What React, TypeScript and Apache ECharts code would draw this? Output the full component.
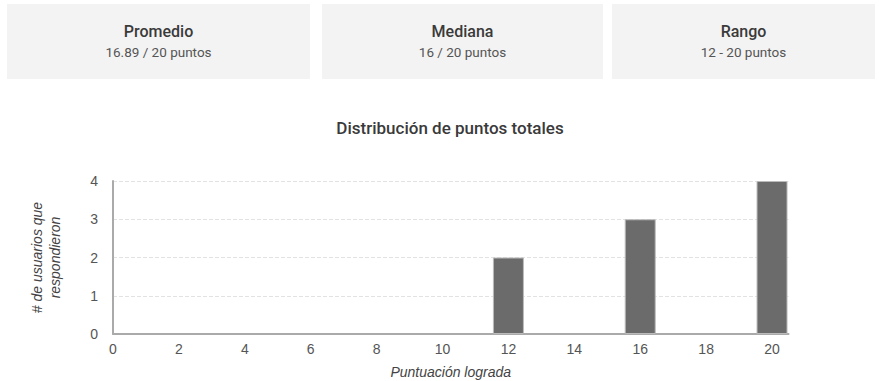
import React, { useEffect, useRef } from "react";
import * as echarts from "echarts";

const cardTitles = ["Promedio", "Mediana", "Rango"];
const cardValues = ["16.89 / 20 puntos", "16 / 20 puntos", "12 - 20 puntos"];
const scoreValues = [12, 16, 20];
const userCounts = [2, 3, 4];
const chartTitle = "Distribución de puntos totales";
const xAxisName = "Puntuación lograda";
const yAxisName = "# de usuarios que\nrespondieron";

const cardBoxes = [
  [7, 310],
  [322, 603],
  [612, 875],
];

export default function App() {
  const ref = useRef<HTMLDivElement>(null);
  useEffect(() => {
    if (!ref.current) return;
    const chart = echarts.init(ref.current, null, { renderer: "svg" });
    const graphics: any[] = [];
    cardBoxes.forEach(([x0, x1], i) => {
      graphics.push({
        type: "rect",
        shape: { x: x0, y: 4, width: x1 - x0, height: 75 },
        style: { fill: "#f3f3f3" },
        silent: true,
      });
      graphics.push({
        type: "text",
        x: (x0 + x1) / 2,
        y: 31,
        style: {
          text: cardTitles[i],
          fontFamily: "Roboto",
          fontSize: 16,
          fontWeight: 500,
          fill: "#3a3a3a",
          align: "center",
          verticalAlign: "middle",
        },
      });
      graphics.push({
        type: "text",
        x: (x0 + x1) / 2,
        y: 52,
        style: {
          text: cardValues[i],
          fontFamily: "Roboto",
          fontSize: 13.5,
          fill: "#555",
          align: "center",
          verticalAlign: "middle",
        },
      });
    });
    graphics.push({
      type: "text",
      x: 450,
      y: 128,
      style: {
        text: chartTitle,
        fontFamily: "Roboto",
        fontSize: 17,
        fontWeight: 500,
        fill: "#3a3a3a",
        align: "center",
        verticalAlign: "middle",
      },
    });
    chart.setOption({
      animation: false,
      backgroundColor: "#fff",
      graphic: graphics,
      grid: { left: 113, right: 90.5, top: 181, bottom: 47, containLabel: false },
      xAxis: {
        type: "value",
        min: 0,
        max: 20.5,
        interval: 2,
        name: xAxisName,
        nameLocation: "middle",
        nameGap: 31,
        nameTextStyle: {
          fontFamily: "Arial, Liberation Sans",
          fontStyle: "italic",
          fontSize: 14,
          color: "#444",
        },
        axisLine: { show: true, lineStyle: { color: "#aaa", width: 2 } },
        axisTick: { show: false },
        splitLine: { show: false },
        axisLabel: {
          showMaxLabel: false,
          fontFamily: "Arial, Liberation Sans",
          fontSize: 14,
          color: "#555",
          margin: 8,
          formatter: (v: number) => (Number.isInteger(v) ? String(v) : ""),
        },
      },
      yAxis: {
        type: "value",
        min: 0,
        max: 4,
        interval: 1,
        name: yAxisName,
        nameLocation: "middle",
        nameGap: 49,
        nameRotate: 90,
        nameTextStyle: {
          fontFamily: "Arial, Liberation Sans",
          fontStyle: "italic",
          fontSize: 14,
          color: "#444",
          lineHeight: 18,
        },
        axisLine: { show: true, lineStyle: { color: "#aaa", width: 2 } },
        axisTick: { show: false },
        splitLine: { show: true, lineStyle: { color: "#e2e2e2", type: "dashed", width: 1 } },
        axisLabel: {
          fontFamily: "Arial, Liberation Sans",
          fontSize: 14,
          color: "#555",
          margin: 15,
        },
      },
      series: [
        {
          type: "bar",
          data: scoreValues.map((s, i) => [s, userCounts[i]]),
          barWidth: 31,
          itemStyle: { color: "#6b6b6b", borderColor: "#bbb", borderWidth: 1 },
        },
      ],
    });
    return () => chart.dispose();
  }, []);
  return (
    <div
      ref={ref}
      style={{ position: "fixed", left: 0, top: 0, width: 879, height: 381 }}
    />
  );
}
